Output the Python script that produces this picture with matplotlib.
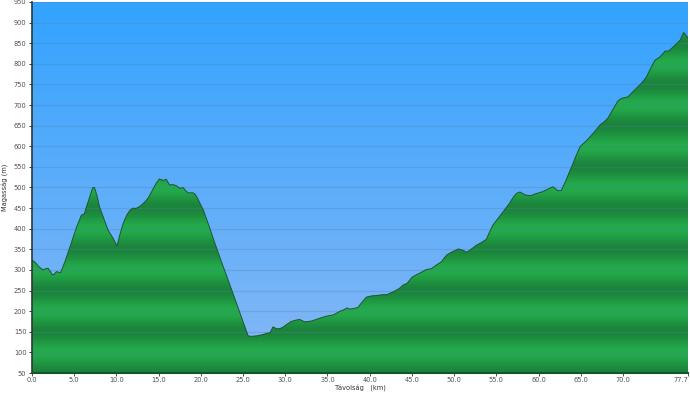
import numpy as np
import matplotlib
matplotlib.use("Agg")
import matplotlib.pyplot as plt
from matplotlib.patches import Polygon
from matplotlib.colors import to_rgb

distance_km = [0.0, 0.4, 0.8, 1.3, 1.6, 1.9, 2.2, 2.4, 2.6, 2.9, 3.2, 3.4, 3.9, 4.5, 5.3, 5.85,
               6.2, 6.45, 6.8, 7.2, 7.4, 7.7, 8.0, 8.5, 9.0, 9.6, 10.07, 10.4, 10.8, 11.2, 11.6,
               12.0, 12.3, 12.6, 12.95, 13.4, 13.75, 14.3, 14.7, 15.1, 15.4, 15.7, 15.9, 16.3,
               16.6, 16.9, 17.2, 17.5, 17.9, 18.2, 18.5, 19.1, 19.3, 19.5, 20.3, 21.0, 21.4,
               22.4, 23.4, 24.4, 25.0, 25.6, 26.0, 26.6, 27.3, 27.8, 28.2, 28.55, 29.0, 29.4,
               29.7, 30.2, 30.7, 31.2, 31.7, 32.3, 33.1, 34.1, 34.9, 35.7, 36.5, 37.0, 37.3,
               37.6, 38.0, 38.6, 39.1, 39.6, 40.2, 40.8, 41.5, 42.0, 42.8, 43.5, 44.0, 44.4,
               45.0, 45.5, 46.0, 46.7, 47.3, 47.9, 48.5, 49.1, 49.6, 50.5, 51.0, 51.5, 52.0,
               52.65, 53.2, 53.8, 54.2, 54.6, 55.2, 55.8, 56.5, 57.0, 57.4, 57.8, 58.4, 59.0,
               59.7, 60.5, 61.2, 61.7, 62.0, 62.3, 62.7, 63.2, 63.6, 64.1, 64.4, 64.9, 65.1,
               65.6, 66.1, 66.7, 67.3, 67.8, 68.2, 68.6, 69.0, 69.4, 69.8, 70.2, 70.6, 71.3,
               72.0, 72.4, 72.8, 73.3, 73.8, 74.4, 75.0, 75.4, 75.9, 76.4, 76.8, 77.0, 77.2,
               77.5, 77.7]
elevation_m = [324, 318, 308, 300, 303, 304, 296, 288, 289, 296, 294, 294, 320, 356, 405, 433,
               436, 453, 475, 500, 500, 480, 453, 425, 397, 377, 358, 385, 413, 432, 445,
               450, 449, 452, 457, 466, 474, 495, 510, 521, 518, 518, 520, 506,
               507, 506, 503, 498, 500, 492, 487, 487, 484, 478, 445, 405, 380,
               322, 266, 209, 175, 140, 139, 140, 143, 146, 148, 162, 157, 158,
               161, 168, 175, 178, 180, 174, 176, 183, 188, 191, 200, 204, 208,
               205, 206, 209, 222, 234, 237, 238, 240, 240, 247, 255, 264, 267,
               282, 288, 293, 301, 303, 312, 320, 336, 342, 351, 348, 343, 350,
               360, 366, 374, 392, 409, 425, 441, 460, 476, 486, 489, 482, 480,
               485, 490, 497, 502, 497, 492, 493, 515, 535, 559, 575, 598, 603,
               612, 623, 637, 652, 660, 668, 682, 696, 710, 716, 718, 720, 735,
               749, 758, 769, 790, 809, 817, 831, 831, 840, 850, 858, 868, 876,
               868, 862]

x_ticks = [0, 5, 10, 15, 20, 25, 30, 35, 40, 45, 50, 55, 60, 65, 70, 77.7]
x_tick_labels = ["0.0", "5.0", "10.0", "15.0", "20.0", "25.0", "30.0", "35.0", "40.0",
                 "45.0", "50.0", "55.0", "60.0", "65.0", "70.0", "77.7"]
y_ticks = list(range(50, 951, 50))

XMIN, XMAX, YMIN, YMAX = 0, 77.7, 50, 950

fig = plt.figure(figsize=(6.9, 3.94), dpi=100)
ax = fig.add_axes([32 / 690, 21 / 394, 656 / 690, 371 / 394])
ax.set_xlim(XMIN, XMAX)
ax.set_ylim(YMIN, YMAX)

# sky gradient
top = np.array(to_rgb("#32a3ff"))
bot = np.array(to_rgb("#88b8f5"))
t = np.linspace(0, 1, 256)[:, None]
sky = (top * (1 - t) + bot * t)[:, None, :]
ax.imshow(sky, extent=[XMIN, XMAX, YMIN, YMAX], aspect="auto", origin="upper", zorder=0,
          interpolation="bilinear")

# green banded gradient
light = np.array(to_rgb("#24ab4b"))
dark = np.array(to_rgb("#1b843b"))
ys = np.linspace(YMIN, YMAX, 1200)
w = 0.5 + 0.5 * np.cos(2 * np.pi * (ys - 50) / 100.0)
grn = (light * (1 - w[:, None]) + dark * w[:, None])[:, None, :]
im = ax.imshow(grn, extent=[XMIN, XMAX, YMIN, YMAX], aspect="auto", origin="lower", zorder=1,
               interpolation="bilinear")
verts = [(distance_km[0], YMIN)] + list(zip(distance_km, elevation_m)) + [(distance_km[-1], YMIN)]
poly = Polygon(verts, closed=True, facecolor="none", edgecolor="none")
ax.add_patch(poly)
im.set_clip_path(poly)

# grid
for yv in y_ticks:
    ax.axhline(yv, color="#4f7fb0", alpha=0.3, lw=0.9, zorder=2)

ax.plot(distance_km, elevation_m, color="#1f5530", lw=0.7, zorder=3)

for s in ["top", "right"]:
    ax.spines[s].set_visible(False)
ax.spines["left"].set_color("#2a3a3a")
ax.spines["left"].set_linewidth(1.2)
ax.spines["bottom"].set_color("#16552a")
ax.spines["bottom"].set_linewidth(1.5)
ax.spines["left"].set_zorder(5)
ax.spines["bottom"].set_zorder(5)

ax.set_yticks(y_ticks)
ax.set_yticklabels([str(v) for v in y_ticks])
ax.set_xticks(x_ticks)
ax.set_xticklabels(x_tick_labels)
ax.tick_params(axis="both", labelsize=4.8, colors="#505050", length=2.5, width=0.7, pad=1.5)
ax.tick_params(axis="x", length=2, pad=1.0)
ax.tick_params(axis="y", color="#2a3a3a")
ax.get_xticklabels()[-1].set_horizontalalignment("right")

fig.text(6 / 690, 1 - 187 / 394, "Magasság (m)", rotation=90, ha="center", va="center",
         fontsize=4.8, color="#333333")
fig.text(360 / 690, 1 - 389 / 394, "Távolság   (km)", ha="center", va="center",
         fontsize=4.8, color="#333333")

fig.savefig("out.png", dpi=100, facecolor="white")
